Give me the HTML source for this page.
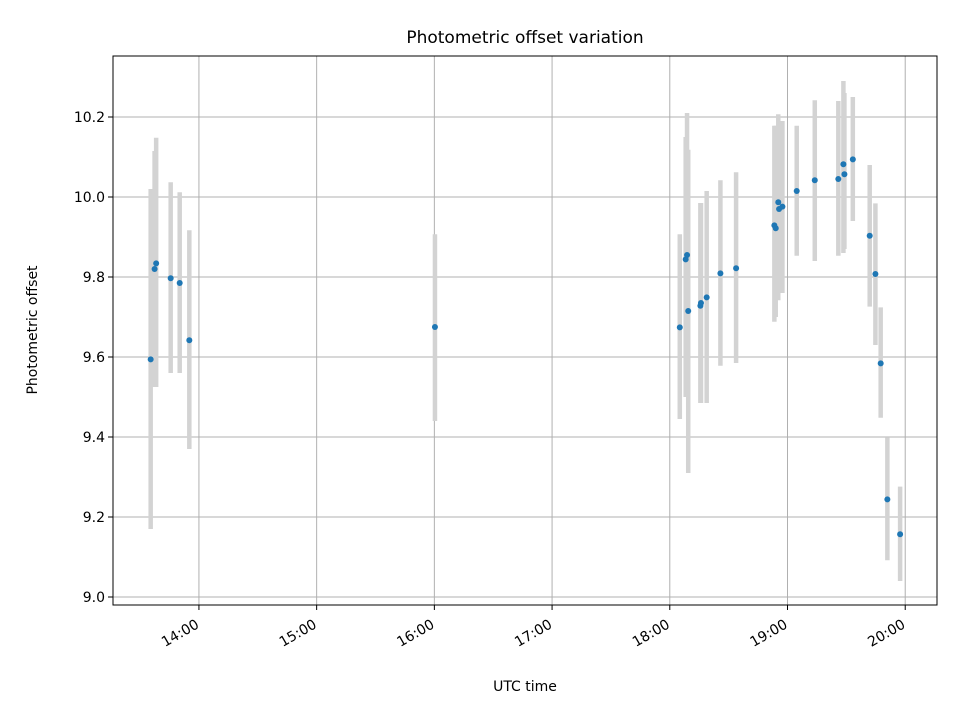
<!DOCTYPE html>
<html><head><meta charset="utf-8"><style>
body{margin:0;background:#fff;}
svg text{font-family:"DejaVu Sans","Liberation Sans",sans-serif;fill:#000;}
</style></head><body>
<svg id="chart" width="960" height="720" viewBox="0 0 960 720" xmlns="http://www.w3.org/2000/svg"></svg>
<script>
// minutes since 13:00 UTC
const times = [35.4,37.4,38.2,45.6,50.2,55.1,180.3,305.1,308.1,308.8,309.4,315.6,315.9,318.8,325.8,333.8,353.3,354,355.3,355.7,357.4,364.7,373.9,385.9,388.5,389,393.3,401.9,404.8,407.5,410.9,417.4];
const offsets = [9.594,9.82,9.834,9.797,9.785,9.642,9.675,9.674,9.844,9.855,9.715,9.728,9.735,9.749,9.809,9.822,9.929,9.922,9.987,9.97,9.976,10.015,10.042,10.045,10.082,10.057,10.094,9.903,9.8075,9.584,9.244,9.157];
const errHigh = [10.02,10.115,10.148,10.037,10.012,9.917,9.907,9.907,10.15,10.21,10.118,9.985,9.985,10.015,10.042,10.062,10.178,10.178,10.207,10.19,10.19,10.178,10.242,10.24,10.29,10.26,10.25,10.08,9.984,9.724,9.398,9.276];
const errLow = [9.17,9.525,9.525,9.56,9.56,9.37,9.44,9.445,9.5,9.54,9.31,9.485,9.485,9.485,9.578,9.585,9.688,9.7,9.742,9.76,9.76,9.853,9.84,9.853,9.86,9.87,9.94,9.726,9.63,9.448,9.092,9.04];
const yTicks = [9.0,9.2,9.4,9.6,9.8,10.0,10.2];
const yTickLabels = ["9.0","9.2","9.4","9.6","9.8","10.0","10.2"];
const xTicks = [60,120,180,240,300,360,420];
const xTickLabels = ["14:00","15:00","16:00","17:00","18:00","19:00","20:00"];

const L=113,R=937,T=56,B=605;
const xMin=16.2,xMax=436.2,yMin=8.98,yMax=10.3525;
const xs=v=>L+(v-xMin)/(xMax-xMin)*(R-L);
const ys=v=>B-(v-yMin)/(yMax-yMin)*(B-T);
const svg=document.getElementById('chart');
const NS='http://www.w3.org/2000/svg';
function mk(tag,attrs,name,parent){
  const el=document.createElementNS(NS,tag);
  for(const k in attrs) el.setAttribute(k,attrs[k]);
  
  
  (parent||svg).appendChild(el);return el;
}
mk('rect',{x:L,y:T,width:R-L,height:B-T,fill:'#fff'},'plot-background');
const grid=mk('g',{},'grid');
xTicks.forEach(t=>mk('line',{x1:xs(t),x2:xs(t),y1:T,y2:B,stroke:'#b0b0b0','stroke-width':1},'x-grid-line',grid));
yTicks.forEach(t=>mk('line',{x1:L,x2:R,y1:ys(t),y2:ys(t),stroke:'#b0b0b0','stroke-width':1},'y-grid-line',grid));
const eb=mk('g',{},'error-bars');
times.forEach((t,i)=>mk('line',{x1:xs(t),x2:xs(t),y1:ys(errHigh[i]),y2:ys(errLow[i]),stroke:'#d3d3d3','stroke-width':4.5},'error-bar',eb));
const pts=mk('g',{},'data-points');
times.forEach((t,i)=>mk('circle',{cx:xs(t),cy:ys(offsets[i]),r:3,fill:'#1f77b4'},'data-point',pts));
mk('rect',{x:L,y:T,width:R-L,height:B-T,fill:'none',stroke:'#000','stroke-width':1},'plot-frame');
const xa=mk('g',{},'x-axis');
xTicks.forEach((t,i)=>{
  const x=xs(t);
  mk('line',{x1:x,x2:x,y1:B,y2:B+5,stroke:'#000'},'x-tick',xa);
  const ax=x+1, ay=B+22;
  const tx=mk('text',{x:ax,y:ay,'font-size':14,'text-anchor':'end',transform:`rotate(-30 ${ax} ${ay})`},'x-tick-label',xa);
  tx.textContent=xTickLabels[i];
});
const ya=mk('g',{},'y-axis');
yTicks.forEach((t,i)=>{
  const y=ys(t);
  mk('line',{x1:L-5,x2:L,y1:y,y2:y,stroke:'#000'},'y-tick',ya);
  const tx=mk('text',{x:L-8,y:y+5,'font-size':14,'text-anchor':'end'},'y-tick-label',ya);
  tx.textContent=yTickLabels[i];
});
mk('text',{x:525,y:691,'font-size':14,'text-anchor':'middle'},'x-axis-title').textContent='UTC time';
mk('text',{x:37,y:330,'font-size':14,'text-anchor':'middle',transform:'rotate(-90 37 330)'},'y-axis-title').textContent='Photometric offset';
mk('text',{x:525,y:43,'font-size':17,'text-anchor':'middle'},'chart-title').textContent='Photometric offset variation';
</script>
</body></html>
